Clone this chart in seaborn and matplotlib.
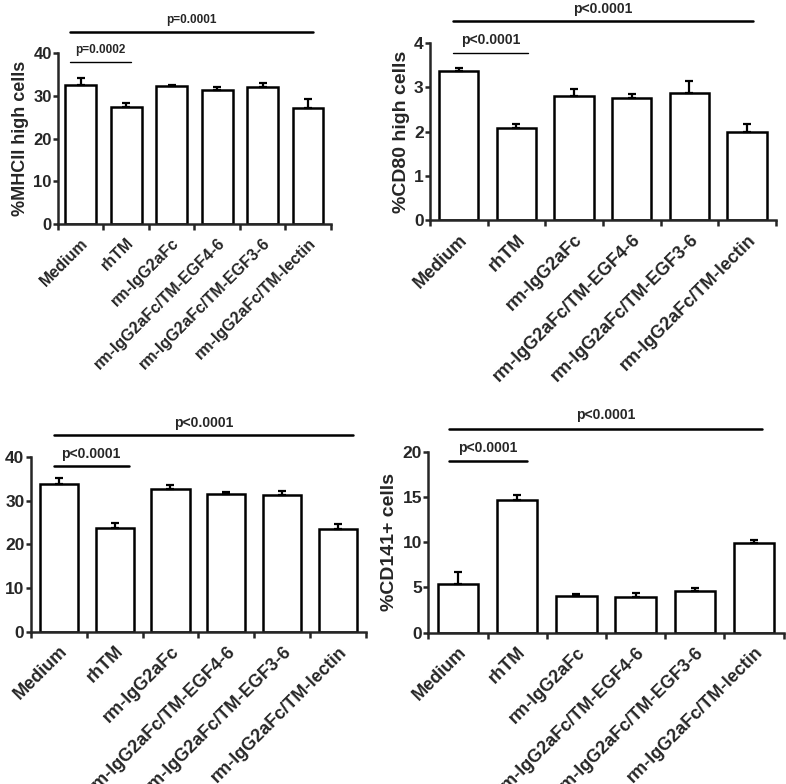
import numpy as np
import pandas as pd
import matplotlib
matplotlib.use("Agg")
import matplotlib.pyplot as plt
import seaborn as sns

categories = ["Medium", "rhTM", "rm-IgG2aFc", "rm-IgG2aFc/TM-EGF4-6",
              "rm-IgG2aFc/TM-EGF3-6", "rm-IgG2aFc/TM-lectin"]

mhcii_mean = [32.7, 27.4, 32.4, 31.4, 32.2, 27.1]
mhcii_err = [1.5, 1.0, 0.2, 0.7, 0.8, 2.3]

cd80_mean = [3.37, 2.08, 2.81, 2.77, 2.88, 1.99]
cd80_err = [0.07, 0.09, 0.16, 0.09, 0.26, 0.19]

panel3_mean = [33.9, 23.7, 32.7, 31.6, 31.3, 23.5]
panel3_err = [1.4, 1.3, 1.0, 0.5, 1.0, 1.2]

cd141_mean = [5.35, 14.6, 4.06, 3.95, 4.58, 9.89]
cd141_err = [1.35, 0.6, 0.22, 0.44, 0.36, 0.37]

sns.set_style("ticks")
plt.rcParams['font.family'] = ['Liberation Sans', 'DejaVu Sans']
plt.rcParams['font.weight'] = 'bold'

fig = plt.figure(figsize=(7.86, 7.84), dpi=100)

panels = [
    dict(rect=[0.0738, 0.714, 0.347, 0.218], mean=mhcii_mean, err=mhcii_err,
         ylim=40, step=10, ylabel="%MHCII high cells", tfs=11.5, lfs=13, yfs=12,
         small=(-0.23, 1.1, 37.9, 40.8, "p=0.0002", 1.0),
         big=(-0.23, 5.1, 45.1, 47.8, "p=0.0001", 1.8), pfs=8.5),
    dict(rect=[0.547, 0.719, 0.440, 0.226], mean=cd80_mean, err=cd80_err,
         ylim=4, step=1, ylabel="%CD80 high cells", tfs=13, lfs=14, yfs=12.5,
         small=(-0.1, 1.2, 3.77, 4.08, "p<0.0001", 1.0),
         big=(-0.1, 5.11, 4.50, 4.78, "p<0.0001", 1.8), pfs=10),
    dict(rect=[0.039, 0.194, 0.427, 0.223], mean=panel3_mean, err=panel3_err,
         ylim=40, step=10, ylabel=None, tfs=13, lfs=14, yfs=12.5,
         small=(-0.09, 1.25, 37.9, 40.6, "p<0.0001", 1.8),
         big=(-0.09, 5.27, 45.0, 47.7, "p<0.0001", 1.8), pfs=10),
    dict(rect=[0.545, 0.193, 0.452, 0.231], mean=cd141_mean, err=cd141_err,
         ylim=20, step=5, ylabel="%CD141+ cells", tfs=13, lfs=14, yfs=12.5,
         small=(-0.15, 1.16, 19.0, 20.4, "p<0.0001", 1.8),
         big=(-0.15, 5.14, 22.5, 24.0, "p<0.0001", 1.8), pfs=10),
]

for p in panels:
    ax = fig.add_axes(p["rect"])
    df = pd.DataFrame({"group": categories, "value": p["mean"]})
    sns.barplot(data=df, x="group", y="value", ax=ax, color="white",
                edgecolor="black", linewidth=1.8, width=0.68, errorbar=None,
                saturation=1)
    x = np.arange(len(categories))
    ax.errorbar(x, p["mean"], yerr=[np.zeros(len(x)), p["err"]], fmt="none",
                ecolor="black", elinewidth=1.6, capsize=3, capthick=1.6, zorder=1)
    ax.set_xlim(-0.5, len(categories) - 0.5)
    ax.set_ylim(0, p["ylim"])
    yt = np.arange(0, p["ylim"] + 0.001, p["step"])
    ax.set_yticks(yt)
    ax.set_yticklabels([f"{v:g}" for v in yt], fontsize=p["yfs"], fontweight="bold")
    ax.set_xticks(x)
    ax.set_xticklabels(categories, rotation=45, ha="right", rotation_mode="anchor",
                       fontsize=p["tfs"], fontweight="bold")
    ax.set_xticks(np.arange(-0.5, len(categories)), minor=True)
    ax.tick_params(axis="x", which="major", length=0, pad=8)
    ax.tick_params(axis="x", which="minor", length=4, width=1.8, direction="out")
    ax.tick_params(axis="y", length=3.5, width=1.8, direction="out", pad=1)
    for s in ["top", "right"]:
        ax.spines[s].set_visible(False)
    for s in ["left", "bottom"]:
        ax.spines[s].set_linewidth(1.8)
    ax.set_xlabel("")
    if p["ylabel"]:
        ax.set_ylabel(p["ylabel"], fontsize=p["lfs"], fontweight="bold", labelpad=3)
    else:
        ax.set_ylabel("")
    for (x0, x1, yl, ytx, txt, lw) in (p["small"], p["big"]):
        ax.plot([x0, x1], [yl, yl], color="black", lw=lw, clip_on=False)
        ax.text((x0 + x1) / 2, ytx, txt, ha="center", va="center",
                fontsize=p["pfs"], fontweight="bold", clip_on=False)

fig.savefig("out.png", dpi=100)
